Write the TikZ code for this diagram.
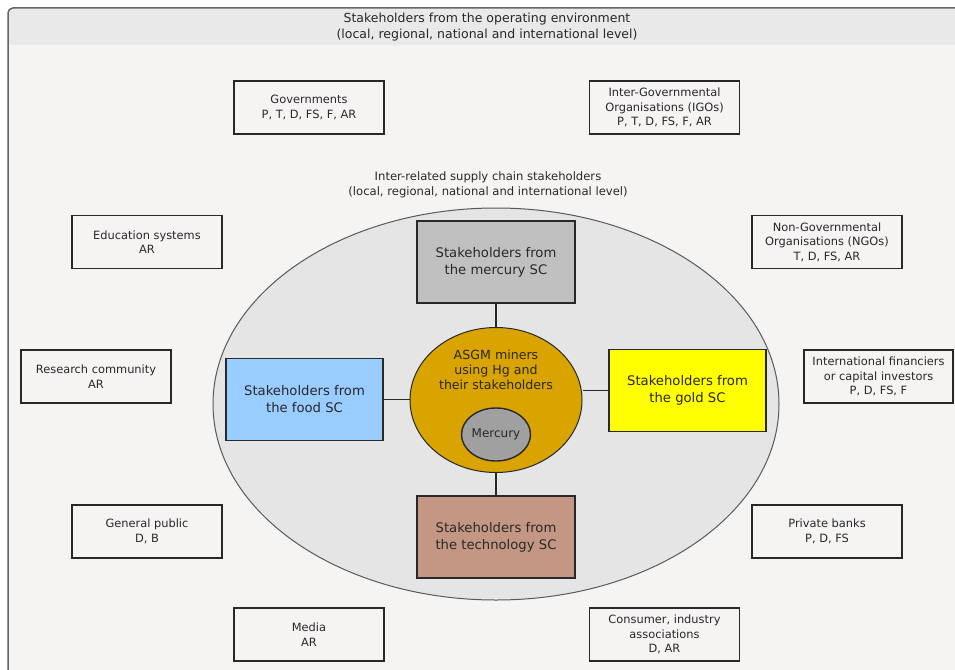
\documentclass[tikz,border=0pt]{standalone}
\usepackage{fontspec}
\setmainfont{DejaVu Sans}
\usetikzlibrary{shapes.geometric}

\definecolor{headgray}{RGB}{233,233,233}
\definecolor{bodygray}{RGB}{246,243,243}
\definecolor{ringgray}{RGB}{229,229,229}
\definecolor{mercsc}{RGB}{192,192,192}
\definecolor{foodsc}{RGB}{153,204,255}
\definecolor{goldsc}{RGB}{255,255,0}
\definecolor{techsc}{RGB}{196,151,132}
\definecolor{asgmcol}{RGB}{217,164,0}
\definecolor{hgcol}{RGB}{160,160,160}
\definecolor{inkcol}{RGB}{40,40,40}

\begin{document}
\begin{tikzpicture}[x=1pt, y=-1pt]
		\tikzset{envbox/.style={shape = rectangle, draw = inkcol, line width = 1.5pt,
				minimum width = 150, minimum height = 53, inner sep = 0pt, align = center,
				text = inkcol, font = \fontsize{11.4}{14.5}\selectfont}}
		\tikzset{scbox/.style={shape = rectangle, draw = inkcol, line width = 1.5pt,
				minimum width = 158, minimum height = 82, inner sep = 0pt, align = center,
				text = inkcol, font = \fontsize{13.2}{17}\selectfont}}
		\tikzset{link/.style={draw = inkcol, line width = 1.4pt}}
		\useasboundingbox (0,0) rectangle (955,669);
		%frame
		\fill[bodygray, rounded corners = 5] (8,680) -- (8,8) -- (965,8) -- (965,680) -- cycle;
		\fill[headgray, rounded corners = 5] (8,45) -- (8,8) -- (965,8) -- (965,45) -- cycle;
		\draw[gray!80!black, line width = 1.5pt, rounded corners = 5] (8,680) -- (8,8) -- (965,8);
		\node[text = inkcol, align = center, font = \fontsize{12.5}{16.5}\selectfont]
			(envtitle) at (487,27) {Stakeholders from the operating environment\\(local, regional, national and international level)};
		%operating environment
		\node[envbox] (gov) at (309,107.5) {Governments\\P, T, D, FS, F, AR};
		\node[envbox] (igo) at (664.5,107.5) {Inter-Governmental\\Organisations (IGOs)\\P, T, D, FS, F, AR};
		\node[envbox] (edu) at (147,242) {Education systems\\AR};
		\node[envbox] (ngo) at (827,242) {Non-Governmental\\Organisations (NGOs)\\T, D, FS, AR};
		\node[envbox] (res) at (96,376.5) {Research community\\AR};
		\node[envbox, minimum width = 149] (fin) at (878.5,376.5) {International financiers\\or capital investors\\P, D, FS, F};
		\node[envbox] (pub) at (147,531.5) {General public\\D, B};
		\node[envbox] (bank) at (827,531.5) {Private banks\\P, D, FS};
		\node[envbox] (media) at (309,634.5) {Media\\AR};
		\node[envbox] (cons) at (664.5,634.5) {Consumer, industry\\associations\\D, AR};
		%supply chains
		\node[text = inkcol, align = center, font = \fontsize{11.6}{15}\selectfont]
			(sctitle) at (488,184.5) {Inter-related supply chain stakeholders\\(local, regional, national and international level)};
		\node[ellipse, draw = gray!70!black, fill = ringgray, line width = 1pt,
			minimum width = 566, minimum height = 392, inner sep = 0pt] (ring) at (496,404) {};
		\node[scbox, fill = mercsc] (merc) at (496,262) {Stakeholders from\\the mercury SC};
		\node[scbox, fill = foodsc, minimum width = 157] (food) at (304.5,399.5) {Stakeholders from\\the food SC};
		\node[scbox, fill = goldsc, minimum width = 157] (gold) at (687.5,390.5) {Stakeholders from\\the gold SC};
		\node[scbox, fill = techsc] (tech) at (496,537) {Stakeholders from\\the technology SC};
		\node[ellipse, draw = inkcol, fill = asgmcol, line width = 1pt,
			minimum width = 172, minimum height = 145, inner sep = 0pt] (asgm) at (496,400) {};
		\node[text = inkcol, align = center, font = \fontsize{12.6}{15}\selectfont]
			(asgmtext) at (496,370) {ASGM miners\\using Hg and\\their stakeholders};
		\node[ellipse, draw = inkcol, fill = hgcol, line width = 1.4pt, text = inkcol,
			minimum width = 69, minimum height = 53, inner sep = 0pt,
			font = \fontsize{12}{14}\selectfont] (hg) at (496,434.5) {Mercury};
		%links
		\draw[link] (merc) -- (asgm);
		\draw[link] (asgm) -- (tech);
		\draw[link] (food.east) -- (food.east -| asgm.west);
		\draw[link] (gold.west) -- (gold.west -| asgm.east);
\end{tikzpicture}
\end{document}
